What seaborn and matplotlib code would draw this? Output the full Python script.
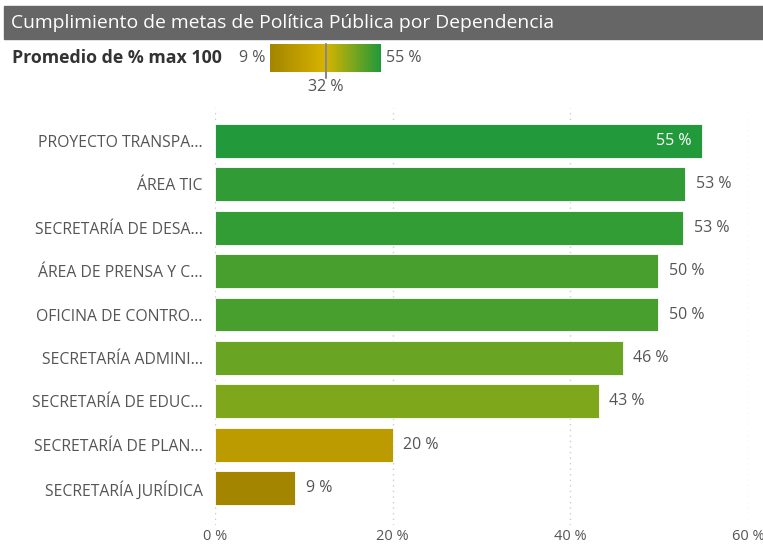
import numpy as np
import pandas as pd
import matplotlib.pyplot as plt
import seaborn as sns
from matplotlib.colors import LinearSegmentedColormap, Normalize

dependencias = [
    "PROYECTO TRANSPA...",
    "ÁREA TIC",
    "SECRETARÍA DE DESA...",
    "ÁREA DE PRENSA Y C...",
    "OFICINA DE CONTRO...",
    "SECRETARÍA ADMINI...",
    "SECRETARÍA DE EDUC...",
    "SECRETARÍA DE PLAN...",
    "SECRETARÍA JURÍDICA",
]
promedio = [54.8, 52.9, 52.7, 49.9, 49.9, 45.9, 43.2, 20.0, 9.0]
escala_min, escala_med, escala_max = 9, 32, 55
xticks = [0, 20, 40, 60]

df = pd.DataFrame({"dependencia": dependencias, "promedio": promedio})

sns.set_theme(style="white")
plt.rcParams['font.family'] = ['Open Sans', 'DejaVu Sans']

# escala divergente como en Power BI: min dorado, centro amarillo, max verde
pos_med = (escala_med - escala_min) / (escala_max - escala_min)
cmap = LinearSegmentedColormap.from_list(
    "pbi", [(0, "#a38500"), (pos_med, "#d8b400"), (1, "#21993a")])
norm = Normalize(escala_min, escala_max)
colores = [cmap(norm(v)) for v in df["promedio"]]

W, H = 763, 545
fig = plt.figure(figsize=(W / 100, H / 100), dpi=100)

# barra de título
fig.patches.append(plt.Rectangle((4 / W, 1 - 39 / H), 1, 33 / H,
                                 transform=fig.transFigure, color="#666666", zorder=0))
fig.text(11 / W, 1 - 22.5 / H, "Cumplimiento de metas de Política Pública por Dependencia",
         color="white", fontsize=13.9, va="center", ha="left")

# leyenda de color
fig.text(12 / W, 1 - 58 / H, "Promedio de % max 100", fontsize=12.8, fontweight="bold",
         color="#333333", va="center", ha="left")
fig.text(265 / W, 1 - 58 / H, f"{escala_min} %", fontsize=11.5, color="#555555",
         va="center", ha="right")
fig.text(386 / W, 1 - 58 / H, f"{escala_max} %", fontsize=11.5, color="#555555",
         va="center", ha="left")
cax = fig.add_axes([270 / W, 1 - 72 / H, 111 / W, 28 / H])
grad = np.linspace(escala_min, escala_max, 256).reshape(1, -1)
cax.imshow(grad, aspect="auto", cmap=cmap, norm=norm,
           extent=[escala_min, escala_max, 0, 1])
cax.axvline(escala_med, color="#888888", lw=1.5, ymin=-0.2, clip_on=False)
cax.set_xticks([])
cax.set_yticks([])
for s in cax.spines.values():
    s.set_visible(False)
fig.text(326 / W, 1 - 87 / H, f"{escala_med} %", fontsize=11.5, color="#555555",
         va="center", ha="center")

# gráfico de barras
ax = fig.add_axes([215 / W, 1 - 525 / H, 533 / W, 417 / H])
sns.barplot(data=df, x="promedio", y="dependencia", hue="dependencia",
            palette=colores, saturation=1, legend=False, width=0.78, ax=ax,
            edgecolor="white", linewidth=0.6)
ax.set_xlim(0, 60)
ax.set_ylim(8.85, -0.76)
ax.set_xticks(xticks)
ax.set_xticklabels([f"{t} %" for t in xticks])
ax.grid(axis="x", color="#cccccc", linestyle=(0, (1, 3)), linewidth=1)
ax.set_axisbelow(True)
for s in ax.spines.values():
    s.set_visible(False)
ax.set_xlabel("")
ax.set_ylabel("")
ax.tick_params(axis="both", length=0, colors="#555555")
ax.tick_params(axis="y", pad=9, labelsize=11.3)
ax.tick_params(axis="x", pad=3, labelsize=10.5)

for i, v in enumerate(df["promedio"]):
    if v > 54:
        ax.text(v - 1.2, i, f"{v:.0f} %", va="center", ha="right",
                color="white", fontsize=11.5)
    else:
        ax.text(v + 1.2, i, f"{v:.0f} %", va="center", ha="left",
                color="#555555", fontsize=11.5)

fig.savefig("out.png", dpi=100)
